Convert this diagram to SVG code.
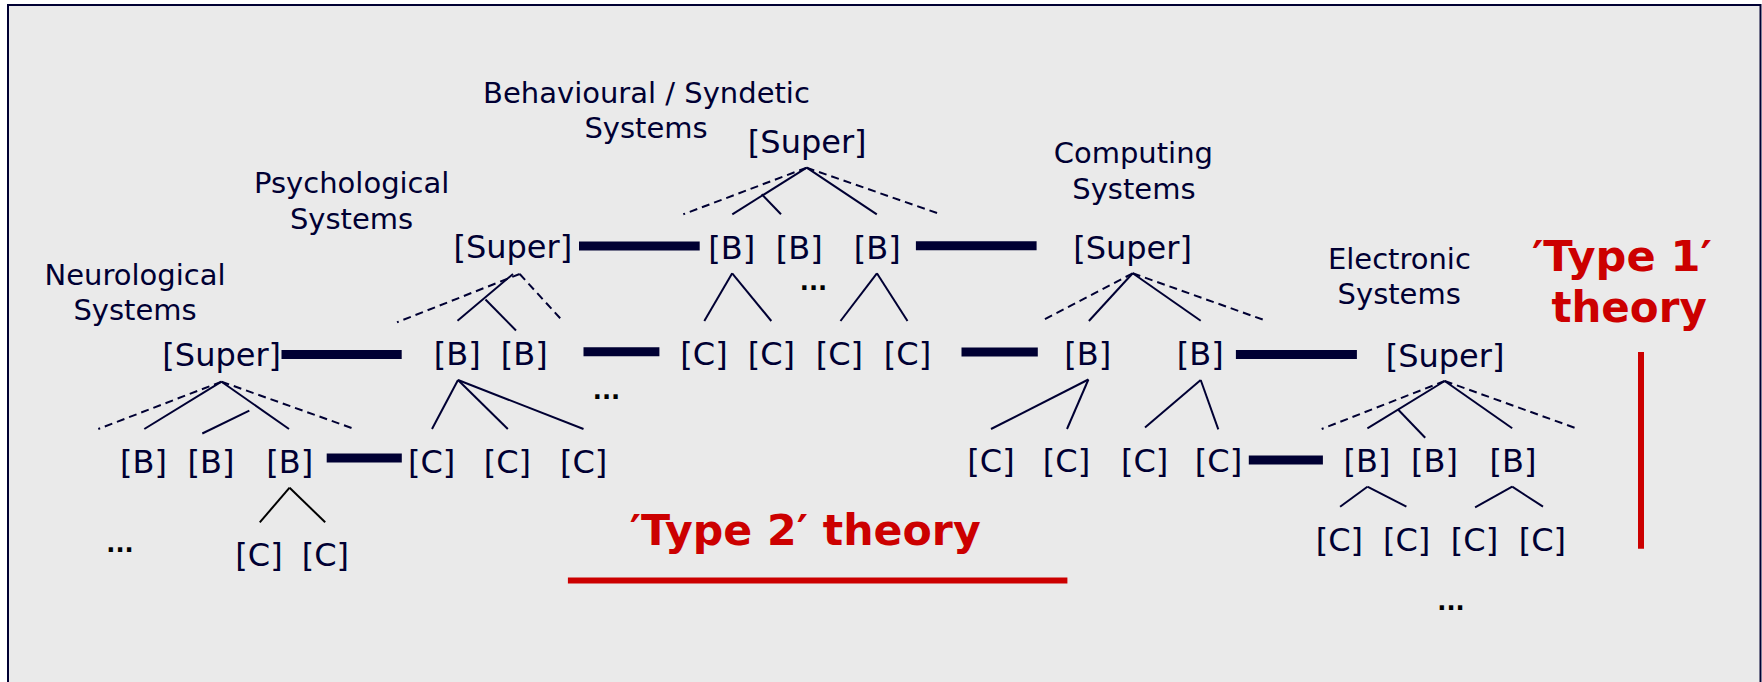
<svg xmlns="http://www.w3.org/2000/svg" width="1762" height="682" viewBox="0 0 1762 682">
<style>
.lbl{font-family:"DejaVu Sans",Verdana,sans-serif;font-size:29px;fill:#000033;text-anchor:middle}
.nd{font-family:"DejaVu Sans",Verdana,sans-serif;font-size:32px;fill:#000033;text-anchor:middle}
.dots{font-family:"DejaVu Sans",Verdana,sans-serif;font-size:24px;font-weight:bold;fill:#000000;text-anchor:middle}
.red{font-family:"DejaVu Sans",Verdana,sans-serif;font-weight:bold;font-size:42px;fill:#CC0000;text-anchor:middle}
.t{stroke:#000033;stroke-width:2;fill:none}
.k{stroke:#000000;stroke-width:2;fill:none}
.d{stroke:#000033;stroke-width:2;fill:none;stroke-dasharray:8 5}
.bar{stroke:#000033;stroke-width:9}
.rl{stroke:#CC0000;stroke-width:6}
</style>
<rect x="0" y="0" width="1762" height="682" fill="#ffffff"/>
<rect x="8" y="5" width="1752.5" height="700" fill="#EAEAEA" stroke="#000033" stroke-width="2"/>

<g id="connectors">
  <!-- thick links -->
  <line class="bar" x1="281.5" y1="354.5" x2="401.7" y2="354.5"/>
  <line class="bar" x1="326.7" y1="458" x2="401.8" y2="458"/>
  <line class="bar" x1="579" y1="246" x2="699.7" y2="246"/>
  <line class="bar" x1="583.5" y1="351.7" x2="659.4" y2="351.7"/>
  <line class="bar" x1="915.9" y1="245.8" x2="1036.6" y2="245.8"/>
  <line class="bar" x1="961.5" y1="352" x2="1037.8" y2="352"/>
  <line class="bar" x1="1235.9" y1="354.5" x2="1356.9" y2="354.5"/>
  <line class="bar" x1="1248.8" y1="460" x2="1322.9" y2="460"/>

  <!-- neurological tree -->
  <line class="d" x1="221.5" y1="381.7" x2="98.3" y2="429"/>
  <line class="t" x1="221.5" y1="381.7" x2="144.3" y2="429"/>
  <line class="t" x1="221.5" y1="381.7" x2="289" y2="429"/>
  <line class="d" x1="221.5" y1="381.7" x2="354.5" y2="429"/>
  <line class="t" x1="202.3" y1="433.5" x2="249.3" y2="410.7"/>
  <line class="k" x1="289.6" y1="487.7" x2="259.8" y2="522.3"/>
  <line class="k" x1="289.6" y1="487.7" x2="325.2" y2="522.3"/>

  <!-- psychological tree -->
  <line class="d" x1="519.7" y1="274" x2="397" y2="322.3"/>
  <line class="t" x1="513" y1="274" x2="457.5" y2="320.7"/>
  <line class="d" x1="519.7" y1="274" x2="563.3" y2="321.7"/>
  <line class="t" x1="485.5" y1="299.5" x2="516" y2="330.5"/>
  <line class="t" x1="458" y1="380" x2="432" y2="429"/>
  <line class="t" x1="458" y1="380" x2="507.8" y2="429"/>
  <line class="t" x1="458" y1="380" x2="583.5" y2="429"/>

  <!-- behavioural tree -->
  <line class="d" x1="806.7" y1="167.7" x2="683.3" y2="214.3"/>
  <line class="t" x1="806.7" y1="167.7" x2="732.3" y2="214.3"/>
  <line class="t" x1="806.7" y1="167.7" x2="876.8" y2="214.3"/>
  <line class="d" x1="806.7" y1="167.7" x2="940.7" y2="214.3"/>
  <line class="t" x1="761.7" y1="194.2" x2="781" y2="214.3"/>
  <line class="t" x1="732.2" y1="273.3" x2="704.3" y2="321"/>
  <line class="t" x1="732.2" y1="273.3" x2="771.3" y2="321"/>
  <line class="t" x1="876.9" y1="273.3" x2="840.5" y2="321"/>
  <line class="t" x1="876.9" y1="273.3" x2="907.5" y2="321"/>

  <!-- computing tree -->
  <line class="d" x1="1132.7" y1="273.3" x2="1041.4" y2="321"/>
  <line class="t" x1="1132.7" y1="273.3" x2="1088.9" y2="321"/>
  <line class="t" x1="1132.7" y1="273.3" x2="1200.7" y2="320.7"/>
  <line class="d" x1="1132.7" y1="273.3" x2="1265.9" y2="320.7"/>
  <line class="t" x1="1088.4" y1="379.5" x2="991" y2="429"/>
  <line class="t" x1="1088.4" y1="379.5" x2="1067" y2="429"/>
  <line class="t" x1="1200.7" y1="380" x2="1145" y2="427.5"/>
  <line class="t" x1="1200.7" y1="380" x2="1218.3" y2="429.3"/>

  <!-- electronic tree -->
  <line class="d" x1="1444.7" y1="381" x2="1321.7" y2="429"/>
  <line class="t" x1="1444.7" y1="381" x2="1367.4" y2="428.3"/>
  <line class="t" x1="1444.7" y1="381" x2="1512.2" y2="428.3"/>
  <line class="d" x1="1444.7" y1="381" x2="1578.2" y2="429"/>
  <line class="t" x1="1397.8" y1="409.3" x2="1425.2" y2="437.7"/>
  <line class="t" x1="1367.4" y1="486.7" x2="1340.1" y2="506.7"/>
  <line class="t" x1="1367.4" y1="486.7" x2="1406.4" y2="506.7"/>
  <line class="t" x1="1512.2" y1="486.7" x2="1475.1" y2="507.3"/>
  <line class="t" x1="1512.2" y1="486.7" x2="1543" y2="506.7"/>

  <!-- theory markers -->
  <line class="rl" x1="567.9" y1="580.5" x2="1067.4" y2="580.5"/>
  <line class="rl" x1="1641" y1="352" x2="1641" y2="548.7"/>
</g>

<g id="label-neurological"><text class="lbl" x="135" y="285">Neurological</text><text class="lbl" x="135" y="320">Systems</text></g>
<g id="label-psychological"><text class="lbl" x="351.7" y="193">Psychological</text><text class="lbl" x="351.5" y="228.5">Systems</text></g>
<g id="label-behavioural"><text class="lbl" x="646.5" y="103">Behavioural / Syndetic</text><text class="lbl" x="646" y="137.5">Systems</text></g>
<g id="label-computing"><text class="lbl" x="1133.3" y="163.3">Computing</text><text class="lbl" x="1133.9" y="199.3">Systems</text></g>
<g id="label-electronic"><text class="lbl" x="1399.4" y="269">Electronic</text><text class="lbl" x="1399.2" y="304">Systems</text></g>

<g id="n-super"><text class="nd" x="221.7" y="365.5">[Super]</text></g>
<g id="n-b1"><text class="nd" x="143.5" y="472.5">[B]</text></g>
<g id="n-b2"><text class="nd" x="211" y="472.5">[B]</text></g>
<g id="n-b3"><text class="nd" x="289.7" y="472.5">[B]</text></g>
<g id="n-dots"><text class="dots" x="120" y="552">...</text></g>
<g id="n-c1"><text class="nd" x="259" y="566">[C]</text></g>
<g id="n-c2"><text class="nd" x="325.4" y="566">[C]</text></g>

<g id="p-super"><text class="nd" x="512.8" y="257.5">[Super]</text></g>
<g id="p-b1"><text class="nd" x="457.3" y="364.5">[B]</text></g>
<g id="p-b2"><text class="nd" x="524.2" y="364.5">[B]</text></g>
<g id="p-dots"><text class="dots" x="606.5" y="399">...</text></g>
<g id="p-c1"><text class="nd" x="431.6" y="472.5">[C]</text></g>
<g id="p-c2"><text class="nd" x="507.4" y="472.5">[C]</text></g>
<g id="p-c3"><text class="nd" x="583.6" y="472.5">[C]</text></g>

<g id="b-super"><text class="nd" x="807.2" y="152.5">[Super]</text></g>
<g id="b-b1"><text class="nd" x="731.7" y="259">[B]</text></g>
<g id="b-b2"><text class="nd" x="799.2" y="259">[B]</text></g>
<g id="b-b3"><text class="nd" x="877.2" y="259">[B]</text></g>
<g id="b-dots"><text class="dots" x="813.5" y="290">...</text></g>
<g id="b-c1"><text class="nd" x="704" y="364.5">[C]</text></g>
<g id="b-c2"><text class="nd" x="771.3" y="364.5">[C]</text></g>
<g id="b-c3"><text class="nd" x="839.4" y="364.5">[C]</text></g>
<g id="b-c4"><text class="nd" x="907.5" y="364.5">[C]</text></g>

<g id="c-super"><text class="nd" x="1132.5" y="259">[Super]</text></g>
<g id="c-b1"><text class="nd" x="1087.7" y="364.5">[B]</text></g>
<g id="c-b2"><text class="nd" x="1200.2" y="364.5">[B]</text></g>
<g id="c-c1"><text class="nd" x="991" y="472">[C]</text></g>
<g id="c-c2"><text class="nd" x="1066.5" y="472">[C]</text></g>
<g id="c-c3"><text class="nd" x="1144.6" y="472">[C]</text></g>
<g id="c-c4"><text class="nd" x="1218.5" y="472">[C]</text></g>

<g id="e-super"><text class="nd" x="1445" y="366.5">[Super]</text></g>
<g id="e-b1"><text class="nd" x="1366.9" y="472">[B]</text></g>
<g id="e-b2"><text class="nd" x="1434.5" y="472">[B]</text></g>
<g id="e-b3"><text class="nd" x="1513" y="472">[B]</text></g>
<g id="e-c1"><text class="nd" x="1339.3" y="550.5">[C]</text></g>
<g id="e-c2"><text class="nd" x="1406.6" y="550.5">[C]</text></g>
<g id="e-c3"><text class="nd" x="1474.5" y="550.5">[C]</text></g>
<g id="e-c4"><text class="nd" x="1542.3" y="550.5">[C]</text></g>
<g id="e-dots"><text class="dots" x="1451" y="610">...</text></g>

<g id="type2"><text class="red" x="805.2" y="545" textLength="351" lengthAdjust="spacingAndGlyphs">′Type 2′ theory</text></g>
<g id="type1"><text class="red" x="1621.9" y="270.5" textLength="180" lengthAdjust="spacingAndGlyphs">′Type 1′</text><text class="red" x="1629.1" y="321.7">theory</text></g>
</svg>
